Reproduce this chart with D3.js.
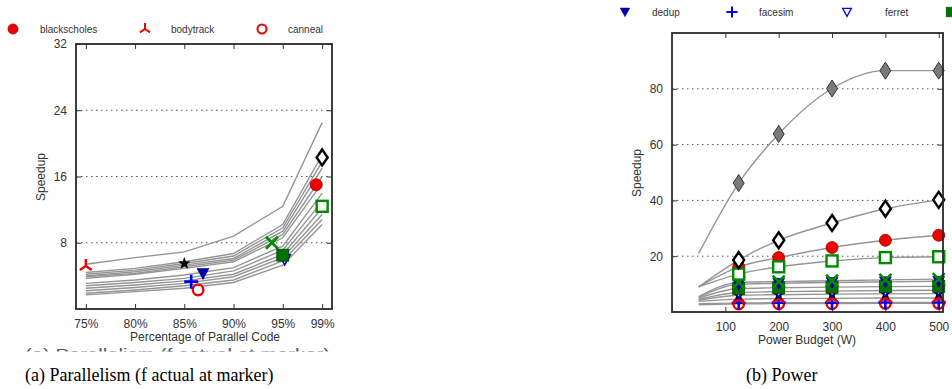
<!DOCTYPE html>
<html><head><meta charset="utf-8">
<script src="https://cdn.jsdelivr.net/npm/d3@7"></script>
<style>
html,body{margin:0;padding:0;background:#fff;}
svg{display:block;font-family:"Liberation Sans",Arial,sans-serif;}
</style></head>
<body>
<svg id="c" width="952" height="389"></svg>
<script>
// ---------- DATA ----------
// Panel (a): Parallelism
const fTicks = [75, 80, 85, 90, 95, 99];
const fTickLabels = ["75%", "80%", "85%", "90%", "95%", "99%"];
const speedupTicksA = [8, 16, 24, 32];
const linesA = [
  [5.4, 6.2, 6.9, 8.8, 12.4, 22.5],
  [4.4, 4.9, 5.7, 6.7, 10.2, 18.6],
  [4.2, 4.7, 5.5, 6.4, 9.8, 17.8],
  [4.0, 4.5, 5.3, 6.1, 9.4, 17.0],
  [3.9, 4.3, 5.1, 5.9, 9.0, 16.0],
  [3.7, 4.2, 4.9, 5.7, 8.6, 15.2],
  [3.1, 3.5, 4.1, 5.0, 7.6, 14.0],
  [2.8, 3.2, 3.7, 4.6, 7.1, 13.0],
  [2.5, 2.9, 3.4, 4.2, 6.6, 12.2],
  [2.2, 2.6, 3.1, 3.9, 6.2, 11.4],
  [1.9, 2.3, 2.8, 3.5, 5.8, 10.8],
  [1.7, 2.1, 2.5, 3.2, 5.3, 10.2]
];
const markerNamesA = ["ferret","canneal","facesim","dedup","streamcluster","bodytrack","fluidanimate","freqmine","raytrace","blackscholes","swaptions"];
const markerFA     = [95.2, 86.4, 85.7, 86.9, 85.0, 75.0, 95.0, 93.9, 99.0, 98.4, 99.0];
const markerValA   = [6.0, 2.3, 3.3, 4.3, 5.5, 5.2, 6.5, 8.0, 12.4, 15.0, 18.3];

// Panel (b): Power
const powerX = [50, 125, 200, 300, 400, 500];
const powerTicks = [100, 200, 300, 400, 500];
const speedupTicksB = [20, 40, 60, 80];
const seriesNamesB = ["canneal","facesim","bodytrack","streamcluster","ferret","fluidanimate","dedup","freqmine","blackscholes","raytrace","swaptions","vips"];
const seriesValsB = [
  [2.6, 2.9, 3.0, 3.0, 3.1, 3.1],
  [3.0, 3.2, 3.3, 3.3, 3.4, 3.4],
  [3.8, 4.6, 4.8, 4.9, 5.0, 5.0],
  [4.2, 6.0, 6.2, 6.4, 6.5, 6.6],
  [4.5, 7.0, 7.3, 7.5, 7.7, 7.8],
  [4.9, 8.4, 8.7, 8.9, 9.1, 9.2],
  [5.3, 9.9, 10.3, 10.6, 10.8, 11.0],
  [5.5, 10.6, 10.9, 11.2, 11.5, 11.8],
  [9.0, 16.2, 19.5, 23.1, 25.7, 27.5],
  [9.0, 13.6, 16.2, 18.3, 19.5, 19.8],
  [9.0, 18.6, 25.7, 31.9, 37.0, 40.2],
  [21.0, 46.2, 63.8, 80.1, 86.5, 86.5]
];

// Legend
const legendNamesA = ["blackscholes", "bodytrack", "canneal"];
const legendNamesB = ["dedup", "facesim", "ferret"];
const legendCutB = "fluidanimate";

// ---------- STYLE ----------
const markerType = {
  blackscholes: "circleFilled", bodytrack: "tripod", canneal: "circleOpen",
  dedup: "triFilled", facesim: "plus", ferret: "triOpen",
  fluidanimate: "squareFilled", freqmine: "cross", raytrace: "squareOpen",
  streamcluster: "star", swaptions: "diamondOpen", vips: "diamondFilled"
};
const RED = "#ee0000", BLUE = "#0000ee", DBLUE = "#0000b0", GREEN = "#008a00", DGREEN = "#007000";
const TXT = "#333";
const LINEC = "#959595";

function drawMarker(g, type, cx, cy, k) {
  k = k || 1;
  const m = g.append("g").attr("transform", `translate(${cx},${cy}) scale(${k})`);
  switch (type) {
    case "circleFilled":
      m.append("circle").attr("r", 6).attr("fill", RED).attr("stroke", "#a00000").attr("stroke-width", 0.8); break;
    case "circleOpen":
      m.append("circle").attr("r", 5.3).attr("fill", "#fff").attr("stroke", RED).attr("stroke-width", 2.4); break;
    case "tripod":
      m.append("path").attr("d", "M0,0 L0,-7 M0,0 L-6,4 M0,0 L6,4").attr("stroke", RED).attr("stroke-width", 2.4).attr("fill", "none"); break;
    case "triFilled":
      m.append("path").attr("d", "M-6,-5 L6,-5 L0,6 Z").attr("fill", DBLUE).attr("stroke", "#000080").attr("stroke-width", 0.6); break;
    case "triOpen":
      m.append("path").attr("d", "M-5.5,-4.5 L5.5,-4.5 L0,5.5 Z").attr("fill", "#fff").attr("stroke", BLUE).attr("stroke-width", 1.6); break;
    case "plus":
      m.append("path").attr("d", "M-7,0 L7,0 M0,-7 L0,7").attr("stroke", BLUE).attr("stroke-width", 2.6).attr("fill", "none"); break;
    case "squareFilled":
      m.append("rect").attr("x", -6).attr("y", -6).attr("width", 12).attr("height", 12).attr("fill", DGREEN).attr("stroke", "#004d00").attr("stroke-width", 0.8); break;
    case "squareOpen":
      m.append("rect").attr("x", -5.5).attr("y", -5.5).attr("width", 11).attr("height", 11).attr("fill", "#fff").attr("stroke", GREEN).attr("stroke-width", 2.4); break;
    case "cross":
      m.append("path").attr("d", "M-6,-6 L6,6 M-6,6 L6,-6").attr("stroke", GREEN).attr("stroke-width", 2.6).attr("fill", "none"); break;
    case "star": {
      const pts = [];
      for (let i = 0; i < 10; i++) {
        const r = i % 2 === 0 ? 6.5 : 2.7;
        const a = -Math.PI / 2 + i * Math.PI / 5;
        pts.push([r * Math.cos(a), r * Math.sin(a)]);
      }
      m.append("path").attr("d", "M" + pts.map(p => p.join(",")).join("L") + "Z").attr("fill", "#000");
      break;
    }
    case "diamondOpen":
      m.append("path").attr("d", "M0,-8 L5.5,0 L0,8 L-5.5,0 Z").attr("fill", "#fff").attr("stroke", "#000").attr("stroke-width", 2.4); break;
    case "diamondFilled":
      m.append("path").attr("d", "M0,-8.5 L5.5,0 L0,8.5 L-5.5,0 Z").attr("fill", "#7a7a7a").attr("stroke", "#333").attr("stroke-width", 1); break;
  }
}

const svg = d3.select("#c");

function frameAxes(g, x, y, xTicks, xFmt, yTicks, yLabelTicks, grid) {
  const [x0, x1] = x.range(), [y0, y1] = y.range();
  g.append("g").selectAll("line").data(grid).join("line")
    .attr("x1", x0).attr("x2", x1).attr("y1", d => y(d)).attr("y2", d => y(d))
    .attr("stroke", "#555").attr("stroke-width", 1).attr("stroke-dasharray", "1.5,3.5");
  const bottom = g.append("g").attr("transform", `translate(0,${y0})`)
    .call(d3.axisBottom(x).tickValues(xTicks).tickSize(-5).tickPadding(10).tickFormat(xFmt));
  const top = g.append("g").attr("transform", `translate(0,${y1})`)
    .call(d3.axisTop(x).tickValues(xTicks).tickSize(-5).tickFormat(""));
  const left = g.append("g").attr("transform", `translate(${x0},0)`)
    .call(d3.axisLeft(y).tickValues(yTicks).tickSize(-5).tickPadding(9).tickFormat(d => yLabelTicks.includes(d) ? d : ""));
  const right = g.append("g").attr("transform", `translate(${x1},0)`)
    .call(d3.axisRight(y).tickValues(yTicks).tickSize(-5).tickFormat(""));
  [bottom, top, left, right].forEach(a => {
    a.select(".domain").remove();
    a.selectAll(".tick line").attr("stroke", "#333").attr("stroke-width", 1);
    a.selectAll("text").attr("fill", TXT).attr("font-size", 12).attr("font-family", "Liberation Sans, Arial, sans-serif");
  });
  return g;
}
function drawFrame(g, x, y) {
  const [x0, x1] = x.range(), [y0, y1] = y.range();
  g.append("rect").attr("x", x0).attr("y", y1).attr("width", x1 - x0).attr("height", y0 - y1)
    .attr("fill", "none").attr("stroke", "#2a2a2a").attr("stroke-width", 1.8);
}

// ---------- Panel (a) ----------
const gA = svg.append("g");
const xA = d3.scaleLinear().domain([74, 100]).range([76, 332]);
const yA = d3.scaleLinear().domain([0, 32]).range([309, 44]);
frameAxes(gA, xA, yA, fTicks, (d, i) => fTickLabels[i], speedupTicksA, speedupTicksA, [8, 16, 24]);

const lineA = d3.line().x((d, i) => xA(fTicks[i])).y(d => yA(d));
gA.append("g").selectAll("path").data(linesA).join("path")
  .attr("d", lineA).attr("fill", "none").attr("stroke", LINEC).attr("stroke-width", 1.4);

markerNamesA.forEach((n, i) => drawMarker(gA, markerType[n], xA(markerFA[i]), yA(markerValA[i])));
drawFrame(gA, xA, yA);

gA.append("text").attr("x", 205).attr("y", 341).attr("text-anchor", "middle")
  .attr("font-size", 12).attr("fill", TXT).text("Percentage of Parallel Code");
gA.append("text").attr("transform", "translate(45,177) rotate(-90)").attr("text-anchor", "middle")
  .attr("font-size", 12).attr("fill", TXT).text("Speedup");

// ---------- Panel (b) ----------
const gB = svg.append("g");
const xB = d3.scaleLinear().domain([0, 508]).range([672, 943]);
const yB = d3.scaleLinear().domain([0, 100]).range([312, 33]);
frameAxes(gB, xB, yB, powerTicks, d => d, speedupTicksB, speedupTicksB, speedupTicksB);

const lineB = d3.line().curve(d3.curveMonotoneX).x((d, i) => xB(powerX[i])).y(d => yB(d));
gB.append("g").selectAll("path").data(seriesValsB).join("path")
  .attr("d", lineB).attr("fill", "none").attr("stroke", LINEC).attr("stroke-width", 1.4);
seriesNamesB.forEach((n, si) => {
  seriesValsB[si].forEach((v, i) => {
    if (i === 0) return;
    drawMarker(gB, markerType[n], xB(powerX[i]), yB(v));
  });
});
drawFrame(gB, xB, yB);

gB.append("text").attr("x", 807).attr("y", 344).attr("text-anchor", "middle")
  .attr("font-size", 12).attr("fill", TXT).text("Power Budget (W)");
gB.append("text").attr("transform", "translate(641,173) rotate(-90)").attr("text-anchor", "middle")
  .attr("font-size", 12).attr("fill", TXT).text("Speedup");

// ---------- Legends ----------
const legA = [{m: 13, t: 40}, {m: 145, t: 171}, {m: 262, t: 288}];
legendNamesA.forEach((n, i) => {
  drawMarker(svg, markerType[n], legA[i].m, 29, 0.85);
  svg.append("text").attr("x", legA[i].t).attr("y", 33).attr("font-size", 10).attr("fill", TXT).text(n);
});
const legB = [{m: 625, t: 652}, {m: 732, t: 759}, {m: 847, t: 885}];
legendNamesB.forEach((n, i) => {
  drawMarker(svg, markerType[n], legB[i].m, 12, 0.8);
  svg.append("text").attr("x", legB[i].t).attr("y", 16).attr("font-size", 10).attr("fill", TXT).text(n);
});
// last legend entry is cut off by the picture edge: only its marker shows
drawMarker(svg, markerType[legendCutB], 951, 12, 0.8);

// ---------- Captions ----------
const clip = svg.append("defs").append("clipPath").attr("id", "cut");
clip.append("rect").attr("x", 0).attr("y", 347.5).attr("width", 340).attr("height", 4);
svg.append("text").attr("clip-path", "url(#cut)").attr("x", 25).attr("y", 358.5)
  .attr("font-size", 15).attr("fill", "#555").attr("textLength", 305).attr("lengthAdjust", "spacingAndGlyphs")
  .text("(a) Parallelism (f actual at marker)");

svg.append("text").attr("x", 25).attr("y", 381).attr("font-family", "Liberation Serif, Times New Roman, serif")
  .attr("font-size", 18).attr("fill", "#000").text("(a) Parallelism (f actual at marker)");
svg.append("text").attr("x", 746).attr("y", 381).attr("font-family", "Liberation Serif, Times New Roman, serif")
  .attr("font-size", 18).attr("fill", "#000").text("(b) Power");
</script>
</body></html>
